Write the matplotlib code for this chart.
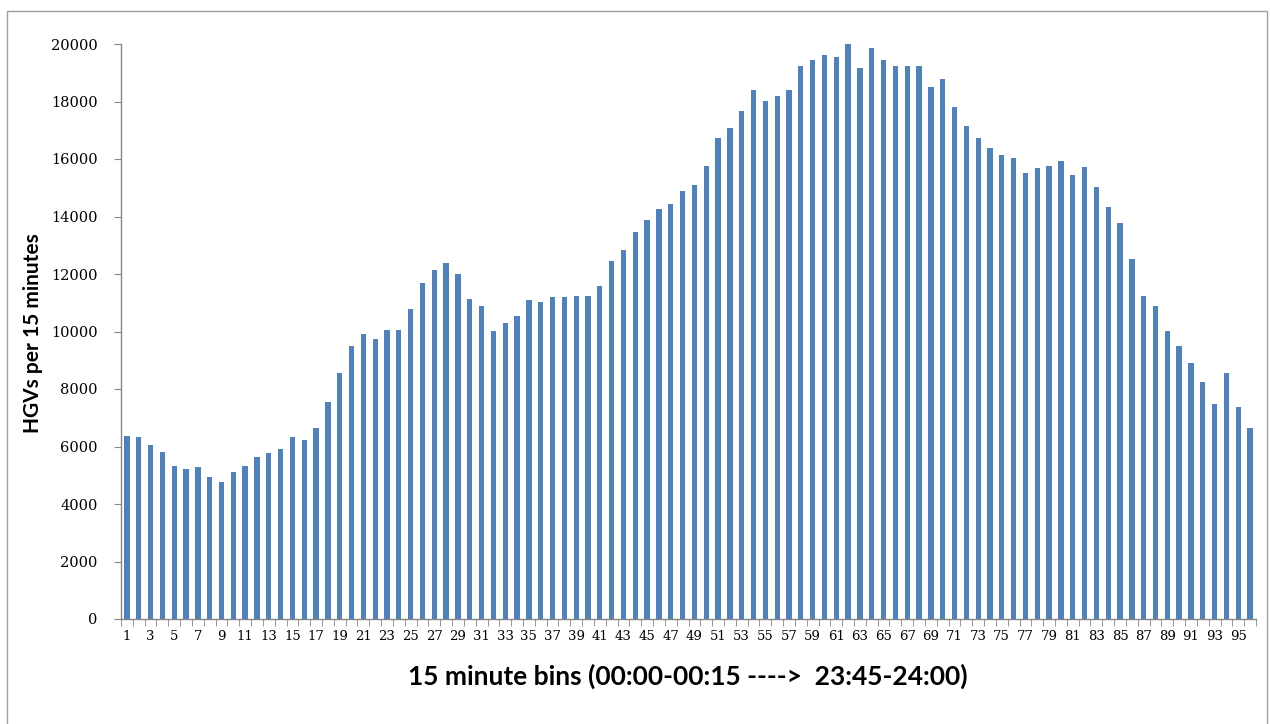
import matplotlib
matplotlib.use("Agg")
import matplotlib.pyplot as plt
from matplotlib.patches import Rectangle
import numpy as np

bins = list(range(1, 97))
hgvs = [6370, 6320, 6050, 5810, 5330, 5220, 5270, 4950, 4780, 5130,
        5310, 5630, 5790, 5930, 6320, 6230, 6640, 7540, 8560, 9510,
        9920, 9740, 10040, 10040, 10780, 11690, 12130, 12370, 11990, 11120,
        10890, 10010, 10280, 10550, 11090, 11030, 11210, 11210, 11240, 11240,
        11570, 12460, 12840, 13450, 13870, 14270, 14430, 14870, 15110, 15740,
        16730, 17080, 17680, 18390, 18010, 18180, 18390, 19230, 19460, 19620,
        19560, 20000, 19170, 19850, 19460, 19220, 19220, 19240, 18510, 18800,
        17820, 17140, 16740, 16370, 16150, 16030, 15500, 15690, 15770, 15940,
        15430, 15710, 15020, 14330, 13780, 12520, 11240, 10870, 10020, 9500,
        8890, 8240, 7480, 8550, 7390, 6630]
yticks = list(range(0, 20001, 2000))
xlabels_shown = [b for b in bins if b % 2 == 1]

fig = plt.figure(figsize=(12.7, 7.24), dpi=100)
W, H = 1270, 724
ax = fig.add_axes([121 / W, 1 - 619 / H, (1256 - 121) / W, (619 - 44) / H])

ax.bar(bins, hgvs, width=0.45, color="#4F81BD", zorder=2)

ax.set_xlim(0.5, 96.5)
ax.set_ylim(0, 20000)

for s in ["top", "right"]:
    ax.spines[s].set_visible(False)
for s in ["left", "bottom"]:
    ax.spines[s].set_color("#868686")
    ax.spines[s].set_linewidth(1.0)

ax.set_yticks(yticks)
ax.set_yticklabels([str(v) for v in yticks], fontfamily="DejaVu Serif", fontsize=10.5)
ax.tick_params(axis="y", direction="out", length=5, color="#868686", pad=12)

ax.set_xticks(xlabels_shown)
ax.set_xticklabels([str(v) for v in xlabels_shown], fontfamily="DejaVu Serif", fontsize=9.5)
ax.set_xticks(np.arange(0.5, 97, 1.0), minor=True)
ax.tick_params(axis="x", which="major", length=0, pad=8)
ax.tick_params(axis="x", which="minor", direction="out", length=5, color="#868686")

fig.text(33 / W, 1 - 333 / H, "HGVs per 15 minutes", rotation=90, ha="center", va="center",
         fontfamily="Lato", fontweight="bold", fontsize=15)
fig.text(688 / W, 1 - 676 / H, "15 minute bins (00:00-00:15 ---->  23:45-24:00)", ha="center", va="center",
         fontfamily="Lato", fontweight="bold", fontsize=19)

fig.patches.append(Rectangle((7 / W, -0.01), (1267 - 7) / W, 1 - 11 / H + 0.01,
                             transform=fig.transFigure, fill=False, edgecolor="#A0A0A0", linewidth=1.0))

fig.savefig("out.png", dpi=100)
